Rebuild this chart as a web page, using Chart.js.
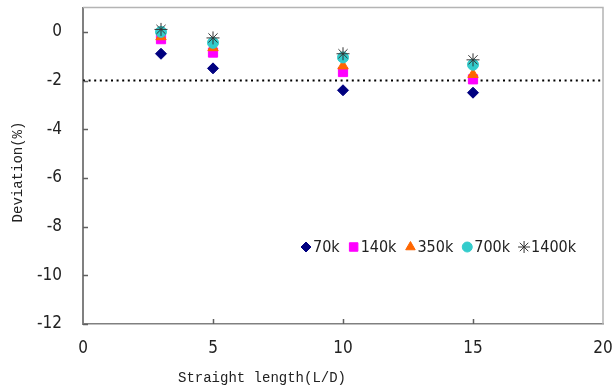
<!DOCTYPE html>
<html>
<head>
<meta charset="utf-8">
<script src="https://cdn.jsdelivr.net/npm/chart.js@4"></script>
<style>
  html, body { margin: 0; padding: 0; background: #fff; }
</style>
</head>
<body>
<canvas id="chart" width="613" height="391"></canvas>
<script>
// L/D positions and deviation (%) per Reynolds number
const lengths = [3, 5, 10, 15];
const dev70k = [-0.9, -1.5, -2.4, -2.5];
const dev140k = [-0.3, -0.85, -1.65, -1.95];
const dev350k = [-0.2, -0.65, -1.4, -1.75];
const dev700k = [0.0, -0.45, -1.05, -1.35];
const dev1400k = [0.1, -0.25, -0.9, -1.15];
const seriesNames = ['70k', '140k', '350k', '700k', '1400k'];
const limitLine = -2;
const yTicks = [0, -2, -4, -6, -8, -10, -12];
const xTicks = [0, 5, 10, 15, 20];

const tickFont = "'Liberation Sans Narrow', 'DejaVu Sans Condensed', 'Liberation Sans', sans-serif";
const titleFont = "'Liberation Mono', 'DejaVu Sans Mono', monospace";

const styles = [
    { pointStyle: 'rectRot', color: '#000080', radius: 5.5 },
    { pointStyle: 'rect', color: '#ff00ff', radius: 6.5 },
    { pointStyle: 'triangle', color: '#ff6600', radius: 6 },
    { pointStyle: 'circle', color: '#33cccc', radius: 5.5 },
    { pointStyle: 'star', color: '#333333', radius: 6.5 }
];

const toPoints = vals => vals.map((v, i) => ({ x: lengths[i], y: v }));
const allSeries = [dev70k, dev140k, dev350k, dev700k, dev1400k];

const datasets = allSeries.map((vals, i) => ({
    label: seriesNames[i],
    data: toPoints(vals),
    pointStyle: styles[i].pointStyle,
    pointRadius: styles[i].radius,
    pointHoverRadius: styles[i].radius,
    backgroundColor: styles[i].color,
    borderColor: styles[i].color,
    borderWidth: 1,
    showLine: false,
    order: 5 - i   // later series sit on top
}));

// dotted reference line at -2%
datasets.push({
    label: 'limit',
    data: [{ x: xTicks[0], y: limitLine }, { x: xTicks[xTicks.length - 1], y: limitLine }],
    showLine: true,
    borderColor: '#000',
    borderWidth: 2,
    borderDash: [2, 3.6],
    pointRadius: 0,
    order: 10
});

// frame, inner tick marks, axis titles and the in-plot legend
const decorations = {
    id: 'decorations',
    afterDraw(chart) {
        const { ctx, chartArea: a, scales: { x, y } } = chart;
        ctx.save();

        ctx.strokeStyle = '#b4b4b4';
        ctx.lineWidth = 1.5;
        ctx.beginPath();
        ctx.moveTo(a.left, a.top);
        ctx.lineTo(a.right, a.top);
        ctx.lineTo(a.right, a.bottom);
        ctx.stroke();

        ctx.strokeStyle = '#606060';
        ctx.lineWidth = 1.5;
        ctx.beginPath();
        yTicks.forEach(v => {
            const py = Math.round(y.getPixelForValue(v)) + 0.5;
            ctx.moveTo(a.left, py);
            ctx.lineTo(a.left + 5, py);
        });
        xTicks.slice(1, -1).forEach(v => {
            const px = Math.round(x.getPixelForValue(v)) + 0.5;
            ctx.moveTo(px, a.bottom);
            ctx.lineTo(px, a.bottom - 5);
        });
        ctx.stroke();

        // axis titles
        ctx.fillStyle = '#222';
        ctx.font = '14px ' + titleFont;
        ctx.textAlign = 'center';
        ctx.textBaseline = 'middle';
        ctx.fillText('Straight length(L/D)', 262, 378);
        ctx.translate(18, 172);
        ctx.rotate(-Math.PI / 2);
        ctx.fillText('Deviation(%)', 0, 0);
        ctx.setTransform(1, 0, 0, 1, 0, 0);

        // legend
        ctx.font = '16px ' + tickFont;
        ctx.textAlign = 'left';
        let mx = 306;
        const ly = 247;
        seriesNames.forEach((name, i) => {
            const s = styles[i];
            ctx.fillStyle = s.color;
            ctx.strokeStyle = s.color;
            ctx.lineWidth = 1;
            Chart.helpers.drawPoint(ctx, {
                pointStyle: s.pointStyle,
                radius: s.radius - 0.5,
                rotation: 0,
                borderWidth: 1
            }, mx, ly);
            ctx.fillStyle = '#222';
            const tx = mx + 7;
            ctx.fillText(name, tx, ly + 1);
            mx = tx + ctx.measureText(name).width + 14;
        });

        ctx.restore();
    }
};

new Chart(document.getElementById('chart'), {
    type: 'scatter',
    data: { datasets },
    options: {
        responsive: false,
        animation: false,
        events: [],
        layout: { padding: { left: 0, right: 10, top: 7, bottom: 0 } },
        plugins: {
            legend: { display: false },
            tooltip: { enabled: false }
        },
        scales: {
            x: {
                type: 'linear',
                min: 0,
                max: 20,
                afterFit: scale => {
                    scale.height = 67;
                    scale.paddingLeft = 0;
                    scale.paddingRight = 0;
                },
                ticks: {
                    stepSize: 5,
                    padding: 14,
                    color: '#222',
                    font: { family: tickFont, size: 17 }
                },
                grid: { drawOnChartArea: false, drawTicks: false, color: 'rgba(0,0,0,0)' },
                border: { display: true, color: '#808080', width: 1.5 }
            },
            y: {
                type: 'linear',
                min: -12,
                max: 1,
                afterFit: scale => {
                    scale.width = 83;
                    scale.paddingTop = 0;
                    scale.paddingBottom = 0;
                },
                afterBuildTicks: scale => {
                    scale.ticks = yTicks.slice().reverse().map(v => ({ value: v }));
                },
                ticks: {
                    padding: 21,
                    color: '#222',
                    font: { family: tickFont, size: 17 }
                },
                grid: { drawOnChartArea: false, drawTicks: false, color: 'rgba(0,0,0,0)' },
                border: { display: true, color: '#808080', width: 2 }
            }
        }
    },
    plugins: [decorations]
});
</script>
</body>
</html>
